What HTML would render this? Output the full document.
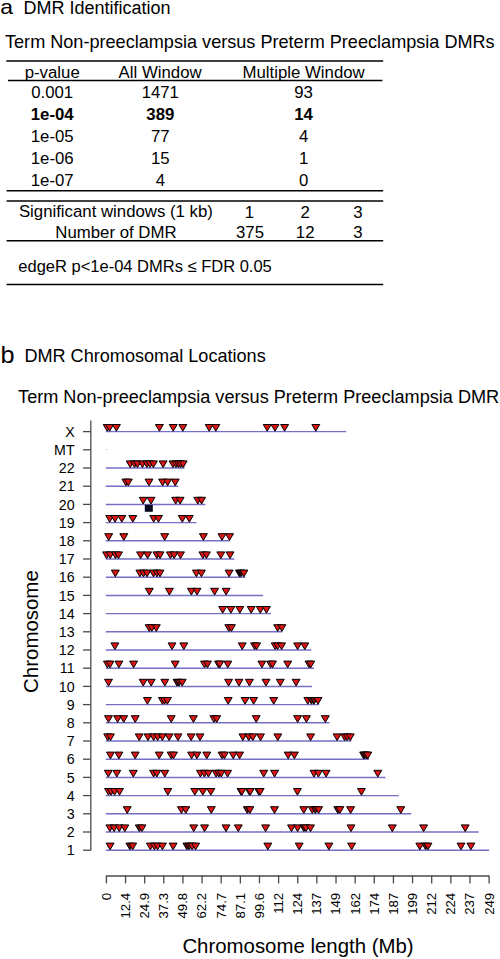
<!DOCTYPE html>
<html><head><meta charset="utf-8"><style>
html,body{margin:0;padding:0;background:#fff;}
svg{display:block;font-family:"Liberation Sans", sans-serif;fill:#000;}
</style></head><body>
<svg width="500" height="959" viewBox="0 0 500 959">
<text transform="translate(0.3,14.3) scale(1.12,1)" font-size="20.5">a</text>
<text x="23.5" y="14.4" font-size="18.0" text-anchor="start" font-weight="normal" >DMR Identification</text>
<text x="5.0" y="47.6" font-size="18.1" text-anchor="start" font-weight="normal" >Term Non-preeclampsia versus Preterm Preeclampsia DMRs</text>
<line x1="6.3" y1="60.9" x2="383.2" y2="60.9" stroke="#000" stroke-width="1.5"/>
<text x="52.2" y="78.1" font-size="16.8" text-anchor="middle" font-weight="normal" >p-value</text>
<text x="160.1" y="78.1" font-size="16.8" text-anchor="middle" font-weight="normal" >All Window</text>
<text x="303.6" y="78.1" font-size="16.8" text-anchor="middle" font-weight="normal" >Multiple Window</text>
<line x1="8" y1="80.6" x2="382.4" y2="80.6" stroke="#000" stroke-width="1.5"/>
<text x="52.2" y="97.8" font-size="16.8" text-anchor="middle" font-weight="normal" >0.001</text>
<text x="160.3" y="97.8" font-size="16.8" text-anchor="middle" font-weight="normal" >1471</text>
<text x="303.6" y="97.8" font-size="16.8" text-anchor="middle" font-weight="normal" >93</text>
<text x="52.2" y="119.6" font-size="16.8" text-anchor="middle" font-weight="bold" >1e-04</text>
<text x="160.3" y="119.6" font-size="16.8" text-anchor="middle" font-weight="bold" >389</text>
<text x="303.6" y="119.6" font-size="16.8" text-anchor="middle" font-weight="bold" >14</text>
<text x="52.2" y="141.8" font-size="16.8" text-anchor="middle" font-weight="normal" >1e-05</text>
<text x="160.3" y="141.8" font-size="16.8" text-anchor="middle" font-weight="normal" >77</text>
<text x="303.6" y="141.8" font-size="16.8" text-anchor="middle" font-weight="normal" >4</text>
<text x="52.2" y="163.6" font-size="16.8" text-anchor="middle" font-weight="normal" >1e-06</text>
<text x="160.3" y="163.6" font-size="16.8" text-anchor="middle" font-weight="normal" >15</text>
<text x="303.6" y="163.6" font-size="16.8" text-anchor="middle" font-weight="normal" >1</text>
<text x="52.2" y="185.5" font-size="16.8" text-anchor="middle" font-weight="normal" >1e-07</text>
<text x="160.3" y="185.5" font-size="16.8" text-anchor="middle" font-weight="normal" >4</text>
<text x="303.6" y="185.5" font-size="16.8" text-anchor="middle" font-weight="normal" >0</text>
<line x1="6.6" y1="190.8" x2="383.2" y2="190.8" stroke="#000" stroke-width="1.5"/>
<line x1="6.6" y1="200.9" x2="383.2" y2="200.9" stroke="#000" stroke-width="1.5"/>
<text x="18.9" y="217.3" font-size="16.8" text-anchor="start" font-weight="normal" >Significant windows (1 kb)</text>
<text x="249.3" y="218.0" font-size="16.8" text-anchor="middle" font-weight="normal" >1</text>
<text x="305.1" y="218.0" font-size="16.8" text-anchor="middle" font-weight="normal" >2</text>
<text x="357.8" y="218.0" font-size="16.8" text-anchor="middle" font-weight="normal" >3</text>
<text x="55.3" y="237.6" font-size="16.8" text-anchor="start" font-weight="normal" >Number of DMR</text>
<text x="250.0" y="237.6" font-size="16.8" text-anchor="middle" font-weight="normal" >375</text>
<text x="305.2" y="237.6" font-size="16.8" text-anchor="middle" font-weight="normal" >12</text>
<text x="357.8" y="237.6" font-size="16.8" text-anchor="middle" font-weight="normal" >3</text>
<line x1="6.6" y1="240.7" x2="383.2" y2="240.7" stroke="#000" stroke-width="1.5"/>
<text x="18.3" y="272.4" font-size="16.5" text-anchor="start" font-weight="normal" >edgeR p&lt;1e-04 DMRs ≤ FDR 0.05</text>
<line x1="6.6" y1="284.4" x2="383.2" y2="284.4" stroke="#000" stroke-width="1.5"/>
<text transform="translate(0.6,362.6) scale(1.1,1)" font-size="23">b</text>
<text x="24.4" y="362" font-size="18.1" text-anchor="start" font-weight="normal" >DMR Chromosomal Locations</text>
<text x="18.1" y="402.9" font-size="18.12" text-anchor="start" font-weight="normal" >Term Non-preeclampsia versus Preterm Preeclampsia DMR</text>
<line x1="90.8" y1="420.6" x2="90.8" y2="850.3" stroke="#4a4a4a" stroke-width="1.3"/>
<line x1="83" y1="431.6" x2="90.8" y2="431.6" stroke="#4a4a4a" stroke-width="1.3"/>
<text x="74.6" y="436.8" font-size="14.2" text-anchor="end" font-weight="normal" >X</text>
<line x1="83" y1="449.8" x2="90.8" y2="449.8" stroke="#4a4a4a" stroke-width="1.3"/>
<text x="74.6" y="455.0" font-size="14.2" text-anchor="end" font-weight="normal" >MT</text>
<line x1="83" y1="468.0" x2="90.8" y2="468.0" stroke="#4a4a4a" stroke-width="1.3"/>
<text x="74.6" y="473.2" font-size="14.2" text-anchor="end" font-weight="normal" >22</text>
<line x1="83" y1="486.20000000000005" x2="90.8" y2="486.20000000000005" stroke="#4a4a4a" stroke-width="1.3"/>
<text x="74.6" y="491.40000000000003" font-size="14.2" text-anchor="end" font-weight="normal" >21</text>
<line x1="83" y1="504.40000000000003" x2="90.8" y2="504.40000000000003" stroke="#4a4a4a" stroke-width="1.3"/>
<text x="74.6" y="509.6" font-size="14.2" text-anchor="end" font-weight="normal" >20</text>
<line x1="83" y1="522.6" x2="90.8" y2="522.6" stroke="#4a4a4a" stroke-width="1.3"/>
<text x="74.6" y="527.8000000000001" font-size="14.2" text-anchor="end" font-weight="normal" >19</text>
<line x1="83" y1="540.8" x2="90.8" y2="540.8" stroke="#4a4a4a" stroke-width="1.3"/>
<text x="74.6" y="546.0" font-size="14.2" text-anchor="end" font-weight="normal" >18</text>
<line x1="83" y1="559.0" x2="90.8" y2="559.0" stroke="#4a4a4a" stroke-width="1.3"/>
<text x="74.6" y="564.2" font-size="14.2" text-anchor="end" font-weight="normal" >17</text>
<line x1="83" y1="577.2" x2="90.8" y2="577.2" stroke="#4a4a4a" stroke-width="1.3"/>
<text x="74.6" y="582.4000000000001" font-size="14.2" text-anchor="end" font-weight="normal" >16</text>
<line x1="83" y1="595.4" x2="90.8" y2="595.4" stroke="#4a4a4a" stroke-width="1.3"/>
<text x="74.6" y="600.6" font-size="14.2" text-anchor="end" font-weight="normal" >15</text>
<line x1="83" y1="613.6" x2="90.8" y2="613.6" stroke="#4a4a4a" stroke-width="1.3"/>
<text x="74.6" y="618.8000000000001" font-size="14.2" text-anchor="end" font-weight="normal" >14</text>
<line x1="83" y1="631.8" x2="90.8" y2="631.8" stroke="#4a4a4a" stroke-width="1.3"/>
<text x="74.6" y="637.0" font-size="14.2" text-anchor="end" font-weight="normal" >13</text>
<line x1="83" y1="650.0" x2="90.8" y2="650.0" stroke="#4a4a4a" stroke-width="1.3"/>
<text x="74.6" y="655.2" font-size="14.2" text-anchor="end" font-weight="normal" >12</text>
<line x1="83" y1="668.2" x2="90.8" y2="668.2" stroke="#4a4a4a" stroke-width="1.3"/>
<text x="74.6" y="673.4000000000001" font-size="14.2" text-anchor="end" font-weight="normal" >11</text>
<line x1="83" y1="686.4" x2="90.8" y2="686.4" stroke="#4a4a4a" stroke-width="1.3"/>
<text x="74.6" y="691.6" font-size="14.2" text-anchor="end" font-weight="normal" >10</text>
<line x1="83" y1="704.6" x2="90.8" y2="704.6" stroke="#4a4a4a" stroke-width="1.3"/>
<text x="74.6" y="709.8000000000001" font-size="14.2" text-anchor="end" font-weight="normal" >9</text>
<line x1="83" y1="722.8" x2="90.8" y2="722.8" stroke="#4a4a4a" stroke-width="1.3"/>
<text x="74.6" y="728.0" font-size="14.2" text-anchor="end" font-weight="normal" >8</text>
<line x1="83" y1="741.0" x2="90.8" y2="741.0" stroke="#4a4a4a" stroke-width="1.3"/>
<text x="74.6" y="746.2" font-size="14.2" text-anchor="end" font-weight="normal" >7</text>
<line x1="83" y1="759.2" x2="90.8" y2="759.2" stroke="#4a4a4a" stroke-width="1.3"/>
<text x="74.6" y="764.4000000000001" font-size="14.2" text-anchor="end" font-weight="normal" >6</text>
<line x1="83" y1="777.4000000000001" x2="90.8" y2="777.4000000000001" stroke="#4a4a4a" stroke-width="1.3"/>
<text x="74.6" y="782.6000000000001" font-size="14.2" text-anchor="end" font-weight="normal" >5</text>
<line x1="83" y1="795.6" x2="90.8" y2="795.6" stroke="#4a4a4a" stroke-width="1.3"/>
<text x="74.6" y="800.8000000000001" font-size="14.2" text-anchor="end" font-weight="normal" >4</text>
<line x1="83" y1="813.8" x2="90.8" y2="813.8" stroke="#4a4a4a" stroke-width="1.3"/>
<text x="74.6" y="819.0" font-size="14.2" text-anchor="end" font-weight="normal" >3</text>
<line x1="83" y1="832.0" x2="90.8" y2="832.0" stroke="#4a4a4a" stroke-width="1.3"/>
<text x="74.6" y="837.2" font-size="14.2" text-anchor="end" font-weight="normal" >2</text>
<line x1="83" y1="850.2" x2="90.8" y2="850.2" stroke="#4a4a4a" stroke-width="1.3"/>
<text x="74.6" y="855.4000000000001" font-size="14.2" text-anchor="end" font-weight="normal" >1</text>
<line x1="105.80000000000001" y1="431.6" x2="346.264688" y2="431.6" stroke="#7470c4" stroke-width="1.45"/>
<rect x="105.9" y="449.20" width="1" height="1" fill="#aaa"/>
<line x1="105.80000000000001" y1="468.0" x2="184.52050400000002" y2="468.0" stroke="#7470c4" stroke-width="1.45"/>
<line x1="105.80000000000001" y1="486.20000000000005" x2="178.202612" y2="486.20000000000005" stroke="#7470c4" stroke-width="1.45"/>
<line x1="105.80000000000001" y1="504.40000000000003" x2="205.457168" y2="504.40000000000003" stroke="#7470c4" stroke-width="1.45"/>
<line x1="105.80000000000001" y1="522.6" x2="196.510664" y2="522.6" stroke="#7470c4" stroke-width="1.45"/>
<line x1="105.80000000000001" y1="540.8" x2="229.94476400000002" y2="540.8" stroke="#7470c4" stroke-width="1.45"/>
<line x1="105.80000000000001" y1="559.0" x2="234.387272" y2="559.0" stroke="#7470c4" stroke-width="1.45"/>
<line x1="105.80000000000001" y1="577.2" x2="245.270648" y2="577.2" stroke="#7470c4" stroke-width="1.45"/>
<line x1="105.80000000000001" y1="595.4" x2="263.179028" y2="595.4" stroke="#7470c4" stroke-width="1.45"/>
<line x1="105.80000000000001" y1="613.6" x2="270.941888" y2="613.6" stroke="#7470c4" stroke-width="1.45"/>
<line x1="105.80000000000001" y1="631.8" x2="282.194192" y2="631.8" stroke="#7470c4" stroke-width="1.45"/>
<line x1="105.80000000000001" y1="650.0" x2="311.278016" y2="650.0" stroke="#7470c4" stroke-width="1.45"/>
<line x1="105.80000000000001" y1="668.2" x2="314.060348" y2="668.2" stroke="#7470c4" stroke-width="1.45"/>
<line x1="105.80000000000001" y1="686.4" x2="312.07736" y2="686.4" stroke="#7470c4" stroke-width="1.45"/>
<line x1="105.80000000000001" y1="704.6" x2="319.133108" y2="704.6" stroke="#7470c4" stroke-width="1.45"/>
<line x1="105.80000000000001" y1="722.8" x2="329.50920799999994" y2="722.8" stroke="#7470c4" stroke-width="1.45"/>
<line x1="105.80000000000001" y1="741.0" x2="351.35281999999995" y2="741.0" stroke="#7470c4" stroke-width="1.45"/>
<line x1="105.80000000000001" y1="759.2" x2="368.96913199999995" y2="759.2" stroke="#7470c4" stroke-width="1.45"/>
<line x1="105.80000000000001" y1="777.4000000000001" x2="385.4632879999999" y2="777.4000000000001" stroke="#7470c4" stroke-width="1.45"/>
<line x1="105.80000000000001" y1="795.6" x2="398.79081199999996" y2="795.6" stroke="#7470c4" stroke-width="1.45"/>
<line x1="105.80000000000001" y1="813.8" x2="411.22676" y2="813.8" stroke="#7470c4" stroke-width="1.45"/>
<line x1="105.80000000000001" y1="832.0" x2="478.69446800000003" y2="832.0" stroke="#7470c4" stroke-width="1.45"/>
<line x1="105.80000000000001" y1="850.2" x2="489.101312" y2="850.2" stroke="#7470c4" stroke-width="1.45"/>
<line x1="106.4" y1="876" x2="489.1" y2="876" stroke="#4a4a4a" stroke-width="1.3"/>
<line x1="106.4" y1="875.4" x2="106.4" y2="883.4" stroke="#4a4a4a" stroke-width="1.3"/>
<text transform="translate(110.80,892.8) rotate(-90)" font-size="13.2" text-anchor="end">0</text>
<line x1="125.53500000000001" y1="875.4" x2="125.53500000000001" y2="883.4" stroke="#4a4a4a" stroke-width="1.3"/>
<text transform="translate(129.94,892.8) rotate(-90)" font-size="13.2" text-anchor="end">12.4</text>
<line x1="144.67000000000002" y1="875.4" x2="144.67000000000002" y2="883.4" stroke="#4a4a4a" stroke-width="1.3"/>
<text transform="translate(149.07,892.8) rotate(-90)" font-size="13.2" text-anchor="end">24.9</text>
<line x1="163.805" y1="875.4" x2="163.805" y2="883.4" stroke="#4a4a4a" stroke-width="1.3"/>
<text transform="translate(168.21,892.8) rotate(-90)" font-size="13.2" text-anchor="end">37.3</text>
<line x1="182.94" y1="875.4" x2="182.94" y2="883.4" stroke="#4a4a4a" stroke-width="1.3"/>
<text transform="translate(187.34,892.8) rotate(-90)" font-size="13.2" text-anchor="end">49.8</text>
<line x1="202.07500000000002" y1="875.4" x2="202.07500000000002" y2="883.4" stroke="#4a4a4a" stroke-width="1.3"/>
<text transform="translate(206.48,892.8) rotate(-90)" font-size="13.2" text-anchor="end">62.2</text>
<line x1="221.21000000000004" y1="875.4" x2="221.21000000000004" y2="883.4" stroke="#4a4a4a" stroke-width="1.3"/>
<text transform="translate(225.61,892.8) rotate(-90)" font-size="13.2" text-anchor="end">74.7</text>
<line x1="240.34500000000003" y1="875.4" x2="240.34500000000003" y2="883.4" stroke="#4a4a4a" stroke-width="1.3"/>
<text transform="translate(244.75,892.8) rotate(-90)" font-size="13.2" text-anchor="end">87.1</text>
<line x1="259.48" y1="875.4" x2="259.48" y2="883.4" stroke="#4a4a4a" stroke-width="1.3"/>
<text transform="translate(263.88,892.8) rotate(-90)" font-size="13.2" text-anchor="end">99.6</text>
<line x1="278.615" y1="875.4" x2="278.615" y2="883.4" stroke="#4a4a4a" stroke-width="1.3"/>
<text transform="translate(283.01,892.8) rotate(-90)" font-size="13.2" text-anchor="end">112</text>
<line x1="297.75" y1="875.4" x2="297.75" y2="883.4" stroke="#4a4a4a" stroke-width="1.3"/>
<text transform="translate(302.15,892.8) rotate(-90)" font-size="13.2" text-anchor="end">124</text>
<line x1="316.88500000000005" y1="875.4" x2="316.88500000000005" y2="883.4" stroke="#4a4a4a" stroke-width="1.3"/>
<text transform="translate(321.29,892.8) rotate(-90)" font-size="13.2" text-anchor="end">137</text>
<line x1="336.02000000000004" y1="875.4" x2="336.02000000000004" y2="883.4" stroke="#4a4a4a" stroke-width="1.3"/>
<text transform="translate(340.42,892.8) rotate(-90)" font-size="13.2" text-anchor="end">149</text>
<line x1="355.15500000000003" y1="875.4" x2="355.15500000000003" y2="883.4" stroke="#4a4a4a" stroke-width="1.3"/>
<text transform="translate(359.56,892.8) rotate(-90)" font-size="13.2" text-anchor="end">162</text>
<line x1="374.2900000000001" y1="875.4" x2="374.2900000000001" y2="883.4" stroke="#4a4a4a" stroke-width="1.3"/>
<text transform="translate(378.69,892.8) rotate(-90)" font-size="13.2" text-anchor="end">174</text>
<line x1="393.42500000000007" y1="875.4" x2="393.42500000000007" y2="883.4" stroke="#4a4a4a" stroke-width="1.3"/>
<text transform="translate(397.83,892.8) rotate(-90)" font-size="13.2" text-anchor="end">187</text>
<line x1="412.56000000000006" y1="875.4" x2="412.56000000000006" y2="883.4" stroke="#4a4a4a" stroke-width="1.3"/>
<text transform="translate(416.96,892.8) rotate(-90)" font-size="13.2" text-anchor="end">199</text>
<line x1="431.69500000000005" y1="875.4" x2="431.69500000000005" y2="883.4" stroke="#4a4a4a" stroke-width="1.3"/>
<text transform="translate(436.10,892.8) rotate(-90)" font-size="13.2" text-anchor="end">212</text>
<line x1="450.83000000000004" y1="875.4" x2="450.83000000000004" y2="883.4" stroke="#4a4a4a" stroke-width="1.3"/>
<text transform="translate(455.23,892.8) rotate(-90)" font-size="13.2" text-anchor="end">224</text>
<line x1="469.96500000000003" y1="875.4" x2="469.96500000000003" y2="883.4" stroke="#4a4a4a" stroke-width="1.3"/>
<text transform="translate(474.37,892.8) rotate(-90)" font-size="13.2" text-anchor="end">237</text>
<line x1="489.1" y1="875.4" x2="489.1" y2="883.4" stroke="#4a4a4a" stroke-width="1.3"/>
<text transform="translate(493.50,892.8) rotate(-90)" font-size="13.2" text-anchor="end">249</text>
<text x="182.4" y="953.1" font-size="20.4" text-anchor="start" font-weight="normal" >Chromosome length (Mb)</text>
<text transform="translate(37.7,692.9) rotate(-90)" font-size="20.45">Chromosome</text>
<defs><path id="t" d="M-3.95 -6.70h7.9l-3.95 6.7z" stroke="#000" stroke-width="1.0" stroke-linejoin="round"/></defs>
<use href="#t" x="107.2" y="431.20" fill="#dc1414"/>
<use href="#t" x="109.6" y="431.20" fill="#dc1414"/>
<use href="#t" x="116.4" y="431.20" fill="#dc1414"/>
<use href="#t" x="159.4" y="431.20" fill="#dc1414"/>
<use href="#t" x="173.2" y="431.20" fill="#dc1414"/>
<use href="#t" x="182.8" y="431.20" fill="#dc1414"/>
<use href="#t" x="209.2" y="431.20" fill="#dc1414"/>
<use href="#t" x="215.8" y="431.20" fill="#dc1414"/>
<use href="#t" x="267.2" y="431.20" fill="#dc1414"/>
<use href="#t" x="275.0" y="431.20" fill="#dc1414"/>
<use href="#t" x="284.6" y="431.20" fill="#dc1414"/>
<use href="#t" x="315.8" y="431.20" fill="#dc1414"/>
<use href="#t" x="130.2" y="467.60" fill="#dc1414"/>
<use href="#t" x="134.5" y="467.60" fill="#dc1414"/>
<use href="#t" x="137.5" y="467.60" fill="#dc1414"/>
<use href="#t" x="142.4" y="467.60" fill="#dc1414"/>
<use href="#t" x="146.9" y="467.60" fill="#dc1414"/>
<use href="#t" x="150.0" y="467.60" fill="#dc1414"/>
<use href="#t" x="153.4" y="467.60" fill="#dc1414"/>
<use href="#t" x="163.1" y="467.60" fill="#dc1414"/>
<use href="#t" x="173.0" y="467.60" fill="#dc1414"/>
<use href="#t" x="176.0" y="467.60" fill="#dc1414"/>
<use href="#t" x="178.5" y="467.60" fill="#dc1414"/>
<use href="#t" x="180.6" y="467.60" fill="#dc1414"/>
<use href="#t" x="183.2" y="467.60" fill="#dc1414"/>
<use href="#t" x="125.9" y="485.80" fill="#dc1414"/>
<use href="#t" x="128.3" y="485.80" fill="#dc1414"/>
<use href="#t" x="149.0" y="485.80" fill="#dc1414"/>
<use href="#t" x="162.6" y="485.80" fill="#dc1414"/>
<use href="#t" x="167.6" y="485.80" fill="#dc1414"/>
<use href="#t" x="175.2" y="485.80" fill="#dc1414"/>
<use href="#t" x="143.2" y="504.00" fill="#dc1414"/>
<use href="#t" x="151.0" y="504.00" fill="#dc1414"/>
<use href="#t" x="175.7" y="504.00" fill="#dc1414"/>
<use href="#t" x="180.1" y="504.00" fill="#dc1414"/>
<use href="#t" x="197.8" y="504.00" fill="#dc1414"/>
<use href="#t" x="201.6" y="504.00" fill="#dc1414"/>
<use href="#t" x="109.7" y="522.20" fill="#dc1414"/>
<use href="#t" x="115.0" y="522.20" fill="#dc1414"/>
<use href="#t" x="121.8" y="522.20" fill="#dc1414"/>
<use href="#t" x="132.8" y="522.20" fill="#dc1414"/>
<use href="#t" x="153.7" y="522.20" fill="#dc1414"/>
<use href="#t" x="158.5" y="522.20" fill="#dc1414"/>
<use href="#t" x="182.3" y="522.20" fill="#dc1414"/>
<use href="#t" x="189.3" y="522.20" fill="#dc1414"/>
<use href="#t" x="108.7" y="540.40" fill="#dc1414"/>
<use href="#t" x="123.8" y="540.40" fill="#dc1414"/>
<use href="#t" x="164.7" y="540.40" fill="#dc1414"/>
<use href="#t" x="203.4" y="540.40" fill="#dc1414"/>
<use href="#t" x="222.0" y="540.40" fill="#dc1414"/>
<use href="#t" x="229.5" y="540.40" fill="#dc1414"/>
<use href="#t" x="106.6" y="558.60" fill="#dc1414"/>
<use href="#t" x="110.2" y="558.60" fill="#dc1414"/>
<use href="#t" x="115.5" y="558.60" fill="#dc1414"/>
<use href="#t" x="118.5" y="558.60" fill="#dc1414"/>
<use href="#t" x="140.6" y="558.60" fill="#dc1414"/>
<use href="#t" x="147.6" y="558.60" fill="#dc1414"/>
<use href="#t" x="156.9" y="558.60" fill="#dc1414"/>
<use href="#t" x="160.0" y="558.60" fill="#dc1414"/>
<use href="#t" x="170.4" y="558.60" fill="#dc1414"/>
<use href="#t" x="174.1" y="558.60" fill="#dc1414"/>
<use href="#t" x="180.5" y="558.60" fill="#dc1414"/>
<use href="#t" x="202.9" y="558.60" fill="#dc1414"/>
<use href="#t" x="206.4" y="558.60" fill="#dc1414"/>
<use href="#t" x="220.8" y="558.60" fill="#dc1414"/>
<use href="#t" x="230.0" y="558.60" fill="#dc1414"/>
<use href="#t" x="115.3" y="576.80" fill="#dc1414"/>
<use href="#t" x="139.9" y="576.80" fill="#dc1414"/>
<use href="#t" x="143.5" y="576.80" fill="#dc1414"/>
<use href="#t" x="147.0" y="576.80" fill="#dc1414"/>
<use href="#t" x="153.5" y="576.80" fill="#dc1414"/>
<use href="#t" x="157.0" y="576.80" fill="#dc1414"/>
<use href="#t" x="160.0" y="576.80" fill="#dc1414"/>
<use href="#t" x="196.4" y="576.80" fill="#dc1414"/>
<use href="#t" x="201.4" y="576.80" fill="#dc1414"/>
<use href="#t" x="229.1" y="576.80" fill="#dc1414"/>
<use href="#t" x="239.4" y="576.80" fill="#240606"/>
<use href="#t" x="241.0" y="576.80" fill="#240606"/>
<use href="#t" x="243.9" y="576.80" fill="#dc1414"/>
<use href="#t" x="149.3" y="595.00" fill="#dc1414"/>
<use href="#t" x="169.4" y="595.00" fill="#dc1414"/>
<use href="#t" x="191.4" y="595.00" fill="#dc1414"/>
<use href="#t" x="197.0" y="595.00" fill="#dc1414"/>
<use href="#t" x="214.6" y="595.00" fill="#dc1414"/>
<use href="#t" x="226.1" y="595.00" fill="#dc1414"/>
<use href="#t" x="222.7" y="613.20" fill="#dc1414"/>
<use href="#t" x="230.9" y="613.20" fill="#dc1414"/>
<use href="#t" x="239.8" y="613.20" fill="#dc1414"/>
<use href="#t" x="251.2" y="613.20" fill="#dc1414"/>
<use href="#t" x="260.3" y="613.20" fill="#dc1414"/>
<use href="#t" x="266.4" y="613.20" fill="#dc1414"/>
<use href="#t" x="149.2" y="631.40" fill="#dc1414"/>
<use href="#t" x="151.8" y="631.40" fill="#dc1414"/>
<use href="#t" x="156.3" y="631.40" fill="#dc1414"/>
<use href="#t" x="228.8" y="631.40" fill="#dc1414"/>
<use href="#t" x="231.4" y="631.40" fill="#dc1414"/>
<use href="#t" x="277.7" y="631.40" fill="#dc1414"/>
<use href="#t" x="281.9" y="631.40" fill="#dc1414"/>
<use href="#t" x="114.9" y="649.60" fill="#dc1414"/>
<use href="#t" x="172.0" y="649.60" fill="#dc1414"/>
<use href="#t" x="183.8" y="649.60" fill="#dc1414"/>
<use href="#t" x="242.2" y="649.60" fill="#dc1414"/>
<use href="#t" x="254.6" y="649.60" fill="#dc1414"/>
<use href="#t" x="256.6" y="649.60" fill="#dc1414"/>
<use href="#t" x="275.2" y="649.60" fill="#dc1414"/>
<use href="#t" x="277.6" y="649.60" fill="#dc1414"/>
<use href="#t" x="281.6" y="649.60" fill="#dc1414"/>
<use href="#t" x="297.6" y="649.60" fill="#dc1414"/>
<use href="#t" x="304.8" y="649.60" fill="#dc1414"/>
<use href="#t" x="107.4" y="667.80" fill="#dc1414"/>
<use href="#t" x="110.0" y="667.80" fill="#dc1414"/>
<use href="#t" x="118.9" y="667.80" fill="#dc1414"/>
<use href="#t" x="133.6" y="667.80" fill="#dc1414"/>
<use href="#t" x="175.2" y="667.80" fill="#dc1414"/>
<use href="#t" x="204.5" y="667.80" fill="#dc1414"/>
<use href="#t" x="207.5" y="667.80" fill="#dc1414"/>
<use href="#t" x="218.5" y="667.80" fill="#dc1414"/>
<use href="#t" x="219.8" y="667.80" fill="#dc1414"/>
<use href="#t" x="227.8" y="667.80" fill="#dc1414"/>
<use href="#t" x="261.9" y="667.80" fill="#dc1414"/>
<use href="#t" x="270.6" y="667.80" fill="#dc1414"/>
<use href="#t" x="272.5" y="667.80" fill="#dc1414"/>
<use href="#t" x="287.7" y="667.80" fill="#dc1414"/>
<use href="#t" x="309.0" y="667.80" fill="#dc1414"/>
<use href="#t" x="310.7" y="667.80" fill="#dc1414"/>
<use href="#t" x="108.5" y="686.00" fill="#dc1414"/>
<use href="#t" x="143.2" y="686.00" fill="#dc1414"/>
<use href="#t" x="151.2" y="686.00" fill="#dc1414"/>
<use href="#t" x="164.8" y="686.00" fill="#dc1414"/>
<use href="#t" x="177.0" y="686.00" fill="#6a0e0e"/>
<use href="#t" x="179.0" y="686.00" fill="#6a0e0e"/>
<use href="#t" x="182.2" y="686.00" fill="#dc1414"/>
<use href="#t" x="228.6" y="686.00" fill="#dc1414"/>
<use href="#t" x="239.0" y="686.00" fill="#dc1414"/>
<use href="#t" x="249.4" y="686.00" fill="#dc1414"/>
<use href="#t" x="266.0" y="686.00" fill="#dc1414"/>
<use href="#t" x="280.3" y="686.00" fill="#dc1414"/>
<use href="#t" x="296.1" y="686.00" fill="#dc1414"/>
<use href="#t" x="147.4" y="704.20" fill="#dc1414"/>
<use href="#t" x="162.4" y="704.20" fill="#dc1414"/>
<use href="#t" x="164.5" y="704.20" fill="#dc1414"/>
<use href="#t" x="167.4" y="704.20" fill="#dc1414"/>
<use href="#t" x="228.2" y="704.20" fill="#dc1414"/>
<use href="#t" x="245.1" y="704.20" fill="#dc1414"/>
<use href="#t" x="253.6" y="704.20" fill="#dc1414"/>
<use href="#t" x="273.7" y="704.20" fill="#dc1414"/>
<use href="#t" x="307.8" y="704.20" fill="#dc1414"/>
<use href="#t" x="311.5" y="704.20" fill="#6a0e0e"/>
<use href="#t" x="314.0" y="704.20" fill="#6a0e0e"/>
<use href="#t" x="318.0" y="704.20" fill="#dc1414"/>
<use href="#t" x="108.5" y="722.40" fill="#dc1414"/>
<use href="#t" x="117.6" y="722.40" fill="#dc1414"/>
<use href="#t" x="123.7" y="722.40" fill="#dc1414"/>
<use href="#t" x="135.2" y="722.40" fill="#dc1414"/>
<use href="#t" x="171.2" y="722.40" fill="#dc1414"/>
<use href="#t" x="193.4" y="722.40" fill="#dc1414"/>
<use href="#t" x="213.9" y="722.40" fill="#dc1414"/>
<use href="#t" x="216.7" y="722.40" fill="#dc1414"/>
<use href="#t" x="256.2" y="722.40" fill="#dc1414"/>
<use href="#t" x="297.6" y="722.40" fill="#dc1414"/>
<use href="#t" x="306.4" y="722.40" fill="#dc1414"/>
<use href="#t" x="325.3" y="722.40" fill="#dc1414"/>
<use href="#t" x="107.7" y="740.60" fill="#dc1414"/>
<use href="#t" x="110.5" y="740.60" fill="#dc1414"/>
<use href="#t" x="139.2" y="740.60" fill="#dc1414"/>
<use href="#t" x="148.0" y="740.60" fill="#dc1414"/>
<use href="#t" x="153.6" y="740.60" fill="#dc1414"/>
<use href="#t" x="157.6" y="740.60" fill="#dc1414"/>
<use href="#t" x="162.4" y="740.60" fill="#dc1414"/>
<use href="#t" x="169.1" y="740.60" fill="#dc1414"/>
<use href="#t" x="178.0" y="740.60" fill="#dc1414"/>
<use href="#t" x="191.1" y="740.60" fill="#dc1414"/>
<use href="#t" x="200.0" y="740.60" fill="#dc1414"/>
<use href="#t" x="242.9" y="740.60" fill="#dc1414"/>
<use href="#t" x="248.8" y="740.60" fill="#dc1414"/>
<use href="#t" x="252.8" y="740.60" fill="#dc1414"/>
<use href="#t" x="260.5" y="740.60" fill="#dc1414"/>
<use href="#t" x="277.8" y="740.60" fill="#dc1414"/>
<use href="#t" x="310.6" y="740.60" fill="#dc1414"/>
<use href="#t" x="337.1" y="740.60" fill="#dc1414"/>
<use href="#t" x="344.6" y="740.60" fill="#dc1414"/>
<use href="#t" x="347.2" y="740.60" fill="#dc1414"/>
<use href="#t" x="350.3" y="740.60" fill="#dc1414"/>
<use href="#t" x="110.4" y="758.80" fill="#dc1414"/>
<use href="#t" x="118.9" y="758.80" fill="#dc1414"/>
<use href="#t" x="135.2" y="758.80" fill="#dc1414"/>
<use href="#t" x="159.2" y="758.80" fill="#dc1414"/>
<use href="#t" x="171.1" y="758.80" fill="#dc1414"/>
<use href="#t" x="173.5" y="758.80" fill="#dc1414"/>
<use href="#t" x="191.6" y="758.80" fill="#dc1414"/>
<use href="#t" x="196.9" y="758.80" fill="#dc1414"/>
<use href="#t" x="206.8" y="758.80" fill="#dc1414"/>
<use href="#t" x="222.0" y="758.80" fill="#dc1414"/>
<use href="#t" x="224.4" y="758.80" fill="#dc1414"/>
<use href="#t" x="233.2" y="758.80" fill="#dc1414"/>
<use href="#t" x="239.6" y="758.80" fill="#dc1414"/>
<use href="#t" x="288.2" y="758.80" fill="#dc1414"/>
<use href="#t" x="294.4" y="758.80" fill="#dc1414"/>
<use href="#t" x="363.6" y="758.80" fill="#6a0e0e"/>
<use href="#t" x="364.6" y="758.80" fill="#6a0e0e"/>
<use href="#t" x="366.4" y="758.80" fill="#dc1414"/>
<use href="#t" x="367.8" y="758.80" fill="#dc1414"/>
<use href="#t" x="108.3" y="777.00" fill="#dc1414"/>
<use href="#t" x="116.8" y="777.00" fill="#dc1414"/>
<use href="#t" x="133.3" y="777.00" fill="#dc1414"/>
<use href="#t" x="153.6" y="777.00" fill="#dc1414"/>
<use href="#t" x="156.8" y="777.00" fill="#dc1414"/>
<use href="#t" x="164.8" y="777.00" fill="#dc1414"/>
<use href="#t" x="200.4" y="777.00" fill="#dc1414"/>
<use href="#t" x="204.4" y="777.00" fill="#dc1414"/>
<use href="#t" x="208.4" y="777.00" fill="#dc1414"/>
<use href="#t" x="216.1" y="777.00" fill="#dc1414"/>
<use href="#t" x="218.8" y="777.00" fill="#dc1414"/>
<use href="#t" x="221.2" y="777.00" fill="#dc1414"/>
<use href="#t" x="227.6" y="777.00" fill="#dc1414"/>
<use href="#t" x="263.7" y="777.00" fill="#dc1414"/>
<use href="#t" x="274.6" y="777.00" fill="#dc1414"/>
<use href="#t" x="314.0" y="777.00" fill="#dc1414"/>
<use href="#t" x="318.4" y="777.00" fill="#dc1414"/>
<use href="#t" x="326.1" y="777.00" fill="#dc1414"/>
<use href="#t" x="377.8" y="777.00" fill="#dc1414"/>
<use href="#t" x="108.5" y="795.20" fill="#dc1414"/>
<use href="#t" x="111.2" y="795.20" fill="#dc1414"/>
<use href="#t" x="114.6" y="795.20" fill="#dc1414"/>
<use href="#t" x="119.5" y="795.20" fill="#dc1414"/>
<use href="#t" x="167.8" y="795.20" fill="#dc1414"/>
<use href="#t" x="194.8" y="795.20" fill="#dc1414"/>
<use href="#t" x="202.8" y="795.20" fill="#dc1414"/>
<use href="#t" x="210.8" y="795.20" fill="#dc1414"/>
<use href="#t" x="241.1" y="795.20" fill="#6a0e0e"/>
<use href="#t" x="241.9" y="795.20" fill="#dc1414"/>
<use href="#t" x="249.4" y="795.20" fill="#dc1414"/>
<use href="#t" x="250.3" y="795.20" fill="#dc1414"/>
<use href="#t" x="258.8" y="795.20" fill="#dc1414"/>
<use href="#t" x="260.2" y="795.20" fill="#dc1414"/>
<use href="#t" x="297.4" y="795.20" fill="#dc1414"/>
<use href="#t" x="361.4" y="795.20" fill="#dc1414"/>
<use href="#t" x="127.2" y="813.40" fill="#dc1414"/>
<use href="#t" x="181.4" y="813.40" fill="#dc1414"/>
<use href="#t" x="185.8" y="813.40" fill="#dc1414"/>
<use href="#t" x="211.3" y="813.40" fill="#dc1414"/>
<use href="#t" x="247.3" y="813.40" fill="#6a0e0e"/>
<use href="#t" x="249.9" y="813.40" fill="#dc1414"/>
<use href="#t" x="274.5" y="813.40" fill="#dc1414"/>
<use href="#t" x="303.8" y="813.40" fill="#dc1414"/>
<use href="#t" x="312.3" y="813.40" fill="#dc1414"/>
<use href="#t" x="315.4" y="813.40" fill="#6a0e0e"/>
<use href="#t" x="318.6" y="813.40" fill="#dc1414"/>
<use href="#t" x="337.8" y="813.40" fill="#6a0e0e"/>
<use href="#t" x="339.9" y="813.40" fill="#dc1414"/>
<use href="#t" x="350.6" y="813.40" fill="#dc1414"/>
<use href="#t" x="400.8" y="813.40" fill="#dc1414"/>
<use href="#t" x="109.9" y="831.60" fill="#dc1414"/>
<use href="#t" x="114.1" y="831.60" fill="#dc1414"/>
<use href="#t" x="119.2" y="831.60" fill="#dc1414"/>
<use href="#t" x="124.8" y="831.60" fill="#dc1414"/>
<use href="#t" x="139.3" y="831.60" fill="#6a0e0e"/>
<use href="#t" x="142.0" y="831.60" fill="#dc1414"/>
<use href="#t" x="193.7" y="831.60" fill="#dc1414"/>
<use href="#t" x="204.6" y="831.60" fill="#dc1414"/>
<use href="#t" x="226.0" y="831.60" fill="#dc1414"/>
<use href="#t" x="238.3" y="831.60" fill="#dc1414"/>
<use href="#t" x="265.6" y="831.60" fill="#dc1414"/>
<use href="#t" x="291.5" y="831.60" fill="#dc1414"/>
<use href="#t" x="297.6" y="831.60" fill="#dc1414"/>
<use href="#t" x="303.8" y="831.60" fill="#6a0e0e"/>
<use href="#t" x="306.0" y="831.60" fill="#dc1414"/>
<use href="#t" x="310.5" y="831.60" fill="#dc1414"/>
<use href="#t" x="351.0" y="831.60" fill="#dc1414"/>
<use href="#t" x="392.3" y="831.60" fill="#dc1414"/>
<use href="#t" x="423.6" y="831.60" fill="#dc1414"/>
<use href="#t" x="465.2" y="831.60" fill="#dc1414"/>
<use href="#t" x="110.1" y="849.80" fill="#dc1414"/>
<use href="#t" x="129.9" y="849.80" fill="#6a0e0e"/>
<use href="#t" x="132.7" y="849.80" fill="#dc1414"/>
<use href="#t" x="150.4" y="849.80" fill="#dc1414"/>
<use href="#t" x="154.4" y="849.80" fill="#dc1414"/>
<use href="#t" x="157.6" y="849.80" fill="#dc1414"/>
<use href="#t" x="162.4" y="849.80" fill="#dc1414"/>
<use href="#t" x="173.1" y="849.80" fill="#dc1414"/>
<use href="#t" x="186.9" y="849.80" fill="#6a0e0e"/>
<use href="#t" x="189.2" y="849.80" fill="#6a0e0e"/>
<use href="#t" x="192.2" y="849.80" fill="#dc1414"/>
<use href="#t" x="195.6" y="849.80" fill="#dc1414"/>
<use href="#t" x="267.8" y="849.80" fill="#dc1414"/>
<use href="#t" x="299.2" y="849.80" fill="#dc1414"/>
<use href="#t" x="328.9" y="849.80" fill="#dc1414"/>
<use href="#t" x="351.6" y="849.80" fill="#dc1414"/>
<use href="#t" x="419.8" y="849.80" fill="#dc1414"/>
<use href="#t" x="425.6" y="849.80" fill="#6a0e0e"/>
<use href="#t" x="428.0" y="849.80" fill="#dc1414"/>
<use href="#t" x="461.0" y="849.80" fill="#dc1414"/>
<use href="#t" x="470.9" y="849.80" fill="#dc1414"/>
<rect x="144.8" y="504.8" width="8" height="7" fill="#08081e"/>
</svg></body></html>
